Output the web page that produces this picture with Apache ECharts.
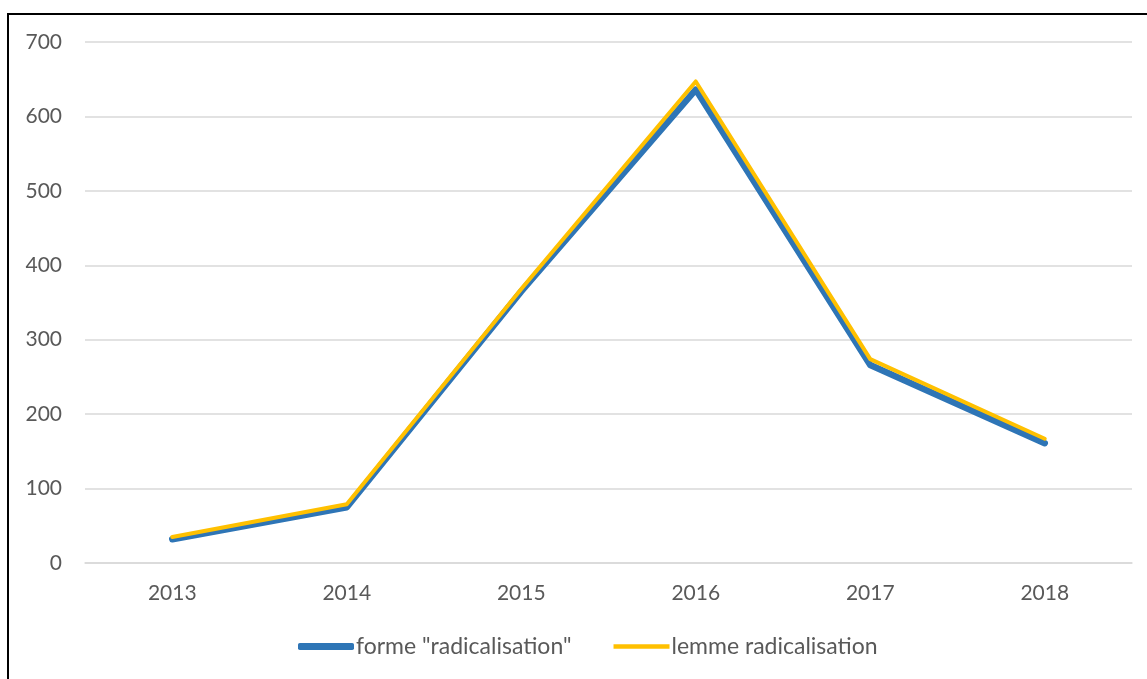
<!DOCTYPE html>
<html>
<head>
<meta charset="utf-8">
<script src="https://cdn.jsdelivr.net/npm/echarts@6/dist/echarts.min.js"></script>
<style>
  html, body { margin: 0; padding: 0; background: #fff; }
  #chart { width: 1147px; height: 679px; }
</style>
</head>
<body>
<div id="chart"></div>
<script>
const years = ['2013', '2014', '2015', '2016', '2017', '2018'];
const formeRadicalisation = [32, 75, 365, 636, 266, 161];
const lemmeRadicalisation = [35, 79, 368, 647, 274, 167];

const chart = echarts.init(document.getElementById('chart'));
const textColor = '#595959';
const font = 'Lato';

const option = {
  animation: false,
  backgroundColor: '#fff',
  graphic: [
    {
      type: 'rect',
      shape: { x: 8, y: 14, width: 1200, height: 700 },
      style: { fill: 'none', stroke: '#000', lineWidth: 2 }
    }
  ],
  grid: { left: 85, right: 15, top: 42, bottom: 116 },
  legend: {
    top: 635,
    left: 298,
    padding: 0,
    itemWidth: 56,
    itemHeight: 7,
    itemGap: 42,
    textStyle: { color: textColor, fontSize: 23, fontFamily: font, padding: [0, 0, 0, -3] },
    data: [
      { name: 'forme "radicalisation"', icon: 'roundRect' },
      { name: 'lemme radicalisation', icon: 'path://M0,0 L56,0 L56,4.5 L0,4.5 Z' }
    ]
  },
  xAxis: {
    type: 'category',
    data: years,
    boundaryGap: true,
    axisLine: { show: true, lineStyle: { color: '#d9d9d9', width: 1.5 } },
    axisTick: { show: false },
    axisLabel: { color: textColor, fontSize: 21, fontFamily: font, margin: 20 }
  },
  yAxis: {
    type: 'value',
    min: 0,
    max: 700,
    interval: 100,
    axisLine: { show: false },
    axisTick: { show: false },
    axisLabel: { color: textColor, fontSize: 21, fontFamily: font, margin: 23 },
    splitLine: { lineStyle: { color: '#d9d9d9', width: 1.5 } }
  },
  series: [
    {
      name: 'forme "radicalisation"',
      type: 'line',
      data: formeRadicalisation,
      symbol: 'none',
      color: '#2E75B6',
      lineStyle: { color: '#2E75B6', width: 6.5, cap: 'round', join: 'round' }
    },
    {
      name: 'lemme radicalisation',
      type: 'line',
      data: lemmeRadicalisation,
      symbol: 'none',
      color: '#FFC000',
      lineStyle: { color: '#FFC000', width: 4, cap: 'round', join: 'round' }
    }
  ]
};

chart.setOption(option);
</script>
</body>
</html>
